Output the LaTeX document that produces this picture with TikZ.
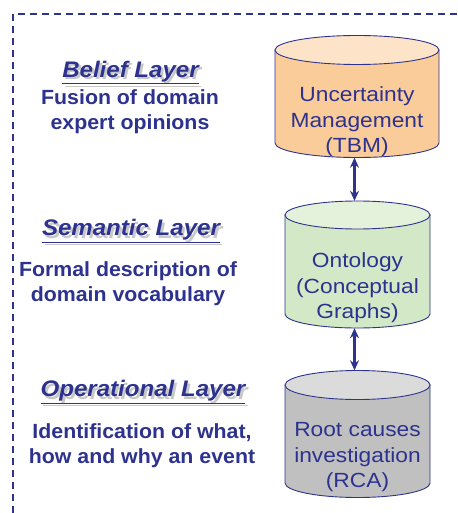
\documentclass[tikz,border=0pt]{standalone}
\usepackage{fontspec}
\setmainfont{Liberation Sans}
\newfontfamily\headfont[FakeStretch=1.07]{Liberation Sans}
\newfontfamily\bodyfont[FakeStretch=1.04]{Liberation Sans}
\newfontfamily\cylfont[FakeStretch=1.11]{Liberation Sans}
\usetikzlibrary{arrows.meta}
\definecolor{tblue}{RGB}{44,50,142}
\definecolor{lineblue}{RGB}{46,52,140}
\definecolor{shadowgray}{RGB}{200,200,200}
\definecolor{orbody}{RGB}{250,204,153}
\definecolor{ortop}{RGB}{253,227,200}
\definecolor{grbody}{RGB}{211,232,198}
\definecolor{grtop}{RGB}{228,241,219}
\definecolor{gybody}{RGB}{192,192,192}
\definecolor{gytop}{RGB}{219,219,219}
\newcommand{\cylshape}[7]{%
  % #1 cx, #2 top-centre y, #3 bottom-centre y, #4 rx, #5 ry, #6 body, #7 top
  \filldraw[fill=#6,draw=lineblue,line width=0.9pt]
    (#1-#4,#2) -- (#1-#4,#3) arc[start angle=180,end angle=360,x radius=#4,y radius=#5]
    -- (#1+#4,#2) -- cycle;
  \filldraw[fill=#7,draw=lineblue,line width=0.9pt]
    (#1,#2) ellipse[x radius=#4,y radius=#5];
}
\tikzset{
  heading/.style={font=\headfont\fontsize{22.5}{24}\selectfont\bfseries\itshape,text=tblue,inner sep=0pt},
  headshadow/.style={font=\headfont\fontsize{22.5}{24}\selectfont\bfseries\itshape,text=shadowgray,inner sep=0pt},
  bodytext/.style={font=\bodyfont\fontsize{20.5}{25.5}\selectfont\bfseries,text=tblue,align=center,inner sep=0pt},
  cyltext/.style={font=\cylfont\fontsize{20.5}{25.5}\selectfont,text=tblue,align=center,inner sep=0pt},
  cylbox/.style={draw=none,inner sep=0pt,minimum width=#1},
  dblarrow/.style={{Stealth[length=10pt,width=9pt]}-{Stealth[length=10pt,width=9pt]},line width=2.6pt,draw=lineblue},
}
\begin{document}
\begin{tikzpicture}[x=1pt,y=1pt]
\useasboundingbox (0,0) rectangle (457,-513);
\draw[lineblue,line width=1.2pt,dash pattern=on 7pt off 5pt] (13,-513) -- (13,-14) -- (457,-14);

% cylinders
\cylshape{357}{-50}{-143}{82}{14.5}{orbody}{ortop}
\node[cylbox=164pt,minimum height=122pt] (cyl1) at (357,-96.5) {};
\node[cyltext] (t1) at (357,-122) {Uncertainty\\Management\\(TBM)};

\cylshape{357.5}{-215}{-314}{72.5}{14}{grbody}{grtop}
\node[cylbox=145pt,minimum height=127pt] (cyl2) at (357.5,-264.5) {};
\node[cyltext] (t2) at (357.5,-288) {Ontology\\(Conceptual\\Graphs)};

\cylshape{357.5}{-385}{-483}{72.5}{14.5}{gybody}{gytop}
\node[cylbox=145pt,minimum height=127pt] (cyl3) at (357.5,-434) {};
\node[cyltext] (t3) at (357.5,-457.5) {Root causes\\investigation\\(RCA)};

\draw[dblarrow] ([xshift=-2.5pt]cyl1.south) -- ([xshift=-3pt]cyl2.north);
\draw[dblarrow] ([xshift=-3pt]cyl2.south) -- ([xshift=-3pt]cyl3.north);

% headings with shadow
\node[headshadow] (h1s) at (133,-75) {\underline{Belief Layer}};
\node[heading] (h1) at (130.5,-72.5) {\underline{Belief Layer}};
\node[bodytext] (b1) at (130,-111.5) {Fusion of domain\\expert opinions};

\node[headshadow] (h2s) at (133.5,-233.5) {\underline{Semantic Layer}};
\node[heading] (h2) at (131,-231) {\underline{Semantic Layer}};
\node[bodytext] (b2) at (128,-283.5) {Formal description of\\domain vocabulary};

\node[headshadow] (h3s) at (145.5,-394.5) {\underline{Operational Layer}};
\node[heading] (h3) at (143,-392) {\underline{Operational Layer}};
\node[bodytext] (b3) at (142,-445.5) {Identification of what,\\how and why an event};
\end{tikzpicture}
\end{document}
